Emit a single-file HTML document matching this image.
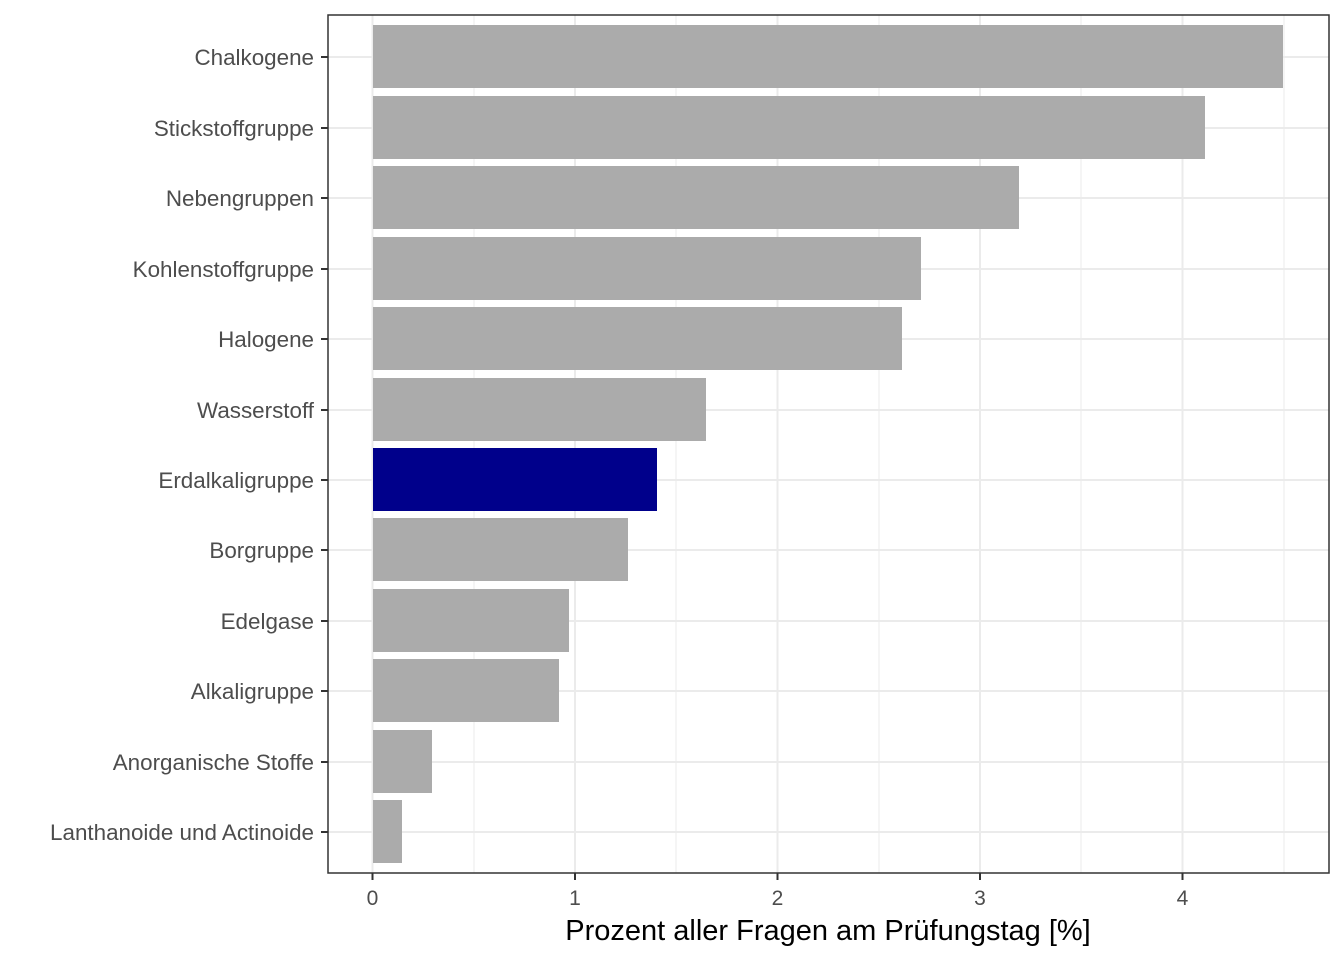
<!DOCTYPE html>
<html><head><meta charset="utf-8"><style>body{margin:0;background:#fff}svg{display:block}</style></head><body>
<svg width="1344" height="960" xmlns="http://www.w3.org/2000/svg" font-family="Liberation Sans, sans-serif">
<rect width="1344" height="960" fill="#fff"/>
<g stroke="#ebebeb" stroke-width="1">
<line x1="474" y1="15" x2="474" y2="873"/><line x1="676" y1="15" x2="676" y2="873"/><line x1="879" y1="15" x2="879" y2="873"/><line x1="1081" y1="15" x2="1081" y2="873"/><line x1="1284" y1="15" x2="1284" y2="873"/>
</g>
<g stroke="#ebebeb" stroke-width="2">
<line x1="372.5" y1="15" x2="372.5" y2="873"/><line x1="575" y1="15" x2="575" y2="873"/><line x1="777.5" y1="15" x2="777.5" y2="873"/><line x1="980" y1="15" x2="980" y2="873"/><line x1="1182.5" y1="15" x2="1182.5" y2="873"/>
<line x1="328" y1="57" x2="1329" y2="57"/><line x1="328" y1="128" x2="1329" y2="128"/><line x1="328" y1="198" x2="1329" y2="198"/><line x1="328" y1="269" x2="1329" y2="269"/><line x1="328" y1="339" x2="1329" y2="339"/><line x1="328" y1="410" x2="1329" y2="410"/><line x1="328" y1="480" x2="1329" y2="480"/><line x1="328" y1="550" x2="1329" y2="550"/><line x1="328" y1="621" x2="1329" y2="621"/><line x1="328" y1="691" x2="1329" y2="691"/><line x1="328" y1="762" x2="1329" y2="762"/><line x1="328" y1="832" x2="1329" y2="832"/>
</g>
<g fill="#ababab">
<rect x="373" y="25" width="910" height="63"/>
<rect x="373" y="96" width="832" height="63"/>
<rect x="373" y="166" width="646" height="63"/>
<rect x="373" y="237" width="548" height="63"/>
<rect x="373" y="307" width="529" height="63"/>
<rect x="373" y="378" width="333" height="63"/>
<rect x="373" y="448" width="284" height="63" fill="#00008b"/>
<rect x="373" y="518" width="255" height="63"/>
<rect x="373" y="589" width="196" height="63"/>
<rect x="373" y="659" width="186" height="63"/>
<rect x="373" y="730" width="59" height="63"/>
<rect x="373" y="800" width="29" height="63"/>
</g>
<rect x="328" y="15" width="1001" height="858" fill="none" stroke="#333" stroke-width="1.5"/>
<g stroke="#333" stroke-width="2">
<line x1="321" y1="57" x2="328" y2="57"/><line x1="321" y1="128" x2="328" y2="128"/><line x1="321" y1="198" x2="328" y2="198"/><line x1="321" y1="269" x2="328" y2="269"/><line x1="321" y1="339" x2="328" y2="339"/><line x1="321" y1="410" x2="328" y2="410"/><line x1="321" y1="480" x2="328" y2="480"/><line x1="321" y1="550" x2="328" y2="550"/><line x1="321" y1="621" x2="328" y2="621"/><line x1="321" y1="691" x2="328" y2="691"/><line x1="321" y1="762" x2="328" y2="762"/><line x1="321" y1="832" x2="328" y2="832"/>
<line x1="372.5" y1="873" x2="372.5" y2="880"/><line x1="575" y1="873" x2="575" y2="880"/><line x1="777.5" y1="873" x2="777.5" y2="880"/><line x1="980" y1="873" x2="980" y2="880"/><line x1="1182.5" y1="873" x2="1182.5" y2="880"/>
</g>
<g fill="#4d4d4d" font-size="22.4" text-anchor="end">
<text x="314" y="65">Chalkogene</text>
<text x="314" y="136">Stickstoffgruppe</text>
<text x="314" y="206">Nebengruppen</text>
<text x="314" y="277">Kohlenstoffgruppe</text>
<text x="314" y="347">Halogene</text>
<text x="314" y="418">Wasserstoff</text>
<text x="314" y="488">Erdalkaligruppe</text>
<text x="314" y="558">Borgruppe</text>
<text x="314" y="629">Edelgase</text>
<text x="314" y="699">Alkaligruppe</text>
<text x="314" y="770">Anorganische Stoffe</text>
<text x="314" y="840">Lanthanoide und Actinoide</text>
</g>
<g fill="#4d4d4d" font-size="21" text-anchor="middle">
<text x="372.5" y="905">0</text><text x="575" y="905">1</text><text x="777.5" y="905">2</text><text x="980" y="905">3</text><text x="1182.5" y="905">4</text>
</g>
<text x="828" y="940" font-size="29" text-anchor="middle" fill="#000">Prozent aller Fragen am Prüfungstag [%]</text>
</svg>
</body></html>
